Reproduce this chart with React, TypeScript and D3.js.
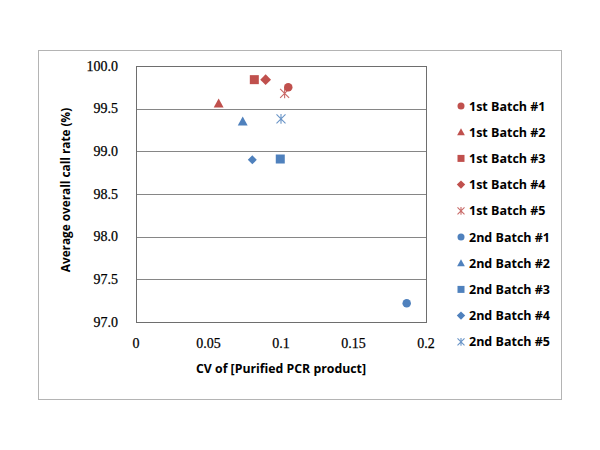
import * as d3 from "d3";
import { useEffect, useRef } from "react";

const seriesNames = [
  "1st Batch #1", "1st Batch #2", "1st Batch #3", "1st Batch #4", "1st Batch #5",
  "2nd Batch #1", "2nd Batch #2", "2nd Batch #3", "2nd Batch #4", "2nd Batch #5",
];
const cvValues = [0.105, 0.057, 0.0816, 0.0894, 0.1025, 0.1867, 0.0736, 0.0995, 0.0802, 0.1];
const callRates = [99.75, 99.56, 99.84, 99.84, 99.68, 97.22, 99.35, 98.91, 98.9, 99.38];
const shapes = ["circle", "triangle", "square", "diamond", "star", "circle", "triangle", "square", "diamond", "star"];
const xTicks = [0, 0.05, 0.1, 0.15, 0.2];
const yTicks = [97.0, 97.5, 98.0, 98.5, 99.0, 99.5, 100.0];

const RED = "#c0504d";
const BLUE = "#4f81bd";

export default function App() {
  const ref = useRef<SVGSVGElement>(null);

  useEffect(() => {
    const svg = d3.select(ref.current);
    svg.selectAll("*").remove();

    const margin = { top: 66, left: 136 };
    const width = 290, height = 256;

    // outer chart box
    svg.append("rect")
      .attr("x", 38.5).attr("y", 50.5)
      .attr("width", 523).attr("height", 349)
      .attr("fill", "white").attr("stroke", "#b4b4b4");

    const g = svg.append("g").attr("transform", `translate(${margin.left},${margin.top})`);

    const x = d3.scaleLinear().domain([0, 0.2]).range([0, width]);
    const y = d3.scaleLinear().domain([97, 100]).range([height, 0]);

    // gridlines
    g.selectAll("line.grid")
      .data(yTicks)
      .join("line")
      .attr("class", "grid")
      .attr("x1", 0).attr("x2", width)
      .attr("y1", (d) => Math.round(y(d)) + 0.5).attr("y2", (d) => Math.round(y(d)) + 0.5)
      .attr("stroke", "#868686");

    g.append("rect")
      .attr("x", 0.5).attr("y", 0.5)
      .attr("width", width).attr("height", height)
      .attr("fill", "none").attr("stroke", "#6e6e6e");

    // tick labels
    g.selectAll("text.ytick")
      .data(yTicks)
      .join("text")
      .attr("class", "ytick")
      .attr("x", -18).attr("y", (d) => y(d) + 4.5)
      .attr("text-anchor", "end")
      .style("font-family", "Liberation Serif")
      .style("font-size", "14px")
      .style("stroke", "#000").style("stroke-width", 0.25)
      .text((d) => d3.format(".1f")(d));

    g.selectAll("text.xtick")
      .data(xTicks)
      .join("text")
      .attr("class", "xtick")
      .attr("x", (d) => x(d)).attr("y", height + 26)
      .attr("text-anchor", "middle")
      .style("font-family", "Liberation Serif")
      .style("font-size", "14px")
      .style("stroke", "#000").style("stroke-width", 0.25)
      .text((d) => String(d));

    // axis titles
    g.append("text")
      .attr("x", width / 2).attr("y", height + 51)
      .attr("text-anchor", "middle")
      .style("font-family", "Open Sans")
      .style("font-weight", "bold")
      .style("font-size", "12.3px")
      .text("CV of [Purified PCR product]");

    g.append("text")
      .attr("transform", `translate(${-66},${height / 2 - 4}) rotate(-90)`)
      .attr("text-anchor", "middle")
      .style("font-family", "Open Sans")
      .style("font-weight", "bold")
      .style("font-size", "11.8px")
      .text("Average overall call rate (%)");

    const drawMarker = (sel: any, shape: string, color: string, s: number) => {
      if (shape === "circle") {
        sel.append("circle").attr("r", s * 0.5).attr("fill", color);
      } else if (shape === "square") {
        sel.append("rect").attr("x", -s / 2).attr("y", -s / 2).attr("width", s).attr("height", s).attr("fill", color);
      } else if (shape === "triangle") {
        sel.append("path")
          .attr("d", `M0,${-s * 0.55}L${s * 0.55},${s * 0.45}L${-s * 0.55},${s * 0.45}Z`)
          .attr("fill", color);
      } else if (shape === "diamond") {
        sel.append("path")
          .attr("d", `M0,${-s * 0.6}L${s * 0.6},0L0,${s * 0.6}L${-s * 0.6},0Z`)
          .attr("fill", color);
      } else {
        const r = s * 0.5;
        sel.append("path")
          .attr("d", `M${-r},${-r}L${r},${r}M${-r},${r}L${r},${-r}M0,${-r * 1.1}L0,${r * 1.1}`)
          .attr("stroke", color).attr("stroke-width", 1.1).attr("fill", "none").attr("opacity", 0.85);
      }
    };

    const sizes: Record<string, number> = { circle: 8.5, square: 9, triangle: 9, diamond: 9, star: 9 };

    seriesNames.forEach((name, i) => {
      const color = i < 5 ? RED : BLUE;
      const s = name === "2nd Batch #4" ? 7.5 : sizes[shapes[i]];
      const m = g.append("g").attr("transform", `translate(${x(cvValues[i])},${y(callRates[i])})`);
      drawMarker(m, shapes[i], color, s);
    });

    // legend
    const legend = svg.append("g").attr("transform", "translate(461,106)");
    seriesNames.forEach((name, i) => {
      const color = i < 5 ? RED : BLUE;
      const item = legend.append("g").attr("transform", `translate(0,${i * 26.2})`);
      drawMarker(item, shapes[i], color, 7);
      item.append("text")
        .attr("x", 8).attr("y", 4.5)
        .style("font-family", "Open Sans")
        .style("font-weight", "bold")
        .style("font-size", "12.5px")
        .text(name);
    });
  }, []);

  return <svg ref={ref} width={600} height={450} style={{ display: "block", margin: -8 }} />;
}
